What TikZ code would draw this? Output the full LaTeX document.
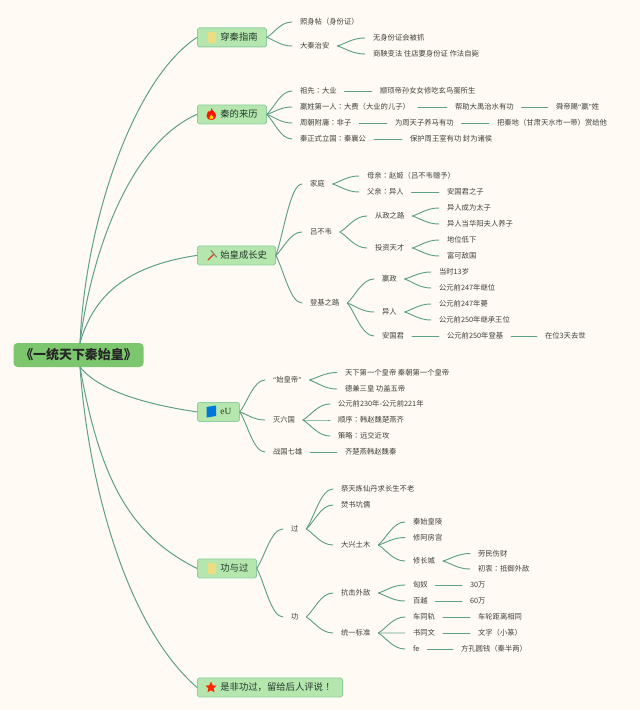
\documentclass[tikz,border=0pt]{standalone}
\usepackage{fontspec}
\usetikzlibrary{calc}
\setmainfont{Noto Sans CJK SC}
\newfontfamily\latinserif{Liberation Serif}
\newfontfamily\tcfont{Noto Sans CJK TC}
\newcommand{\zcolon}{{\tcfont：}}
\newcommand{\zexcl}{{\tcfont！}}
\newcommand{\zql}{{\latinserif “}}
\newcommand{\zqr}{{\latinserif ”}}
\definecolor{bgc}{HTML}{FFFBF4}
\definecolor{linec}{HTML}{5F9F88}
\definecolor{mainfill}{HTML}{B5E6AE}
\definecolor{mainedge}{HTML}{90CDA0}
\definecolor{rootfill}{HTML}{7CC76E}
\definecolor{leaftext}{HTML}{3F3F3A}
\definecolor{maintext}{HTML}{24382A}
\definecolor{blockc}{HTML}{EEDD80}
\tikzset{
  x=0.75pt,y=-0.75pt,
  leaf/.style={anchor=west,inner sep=0pt,outer sep=0pt,font=\fontsize{5.5pt}{6.5pt}\selectfont,text=leaftext},
  mainbox/.style={draw=mainedge,fill=mainfill,line width=0.6pt,rounded corners=1.2pt,inner sep=0pt,anchor=north west,font=\fontsize{7pt}{8pt}\selectfont,text=maintext},
  rootbox/.style={fill=rootfill,rounded corners=3pt,inner sep=0pt,font=\fontsize{9.7pt}{11pt}\bfseries\selectfont,text=black!85},
  trunk/.style={draw=linec,line width=0.75pt,line cap=round},
  twig/.style={draw=linec,line width=0.7pt,line cap=round},
}
% fork: starts at an angle, ends level at the child
\newcommand{\forkline}[2]{%
  \coordinate (fa) at (#1);
  \coordinate (fb) at (#2);
  \coordinate (fc) at ($(fa)!0.3!(fb)$);
  \coordinate (fd) at ($(fa)!0.55!(fb)$);
  \draw[twig] (fa) .. controls (fc) and (fd |- fb) .. (fb);}
\newcommand{\twigc}[2]{\forkline{[xshift=6pt]#1.east}{[xshift=-6pt]#2.west}}
\newcommand{\twigm}[2]{\forkline{#1.east}{[xshift=-6pt]#2.west}}
\newcommand{\twigs}[2]{\draw[twig] ([xshift=6pt]#1.east) -- ([xshift=-6pt]#2.west);}
\newcommand{\mainnode}[4]{\node[mainbox,minimum height=14.25pt] (#1) at (#2) {\makebox[#3\dimexpr0.75pt\relax][l]{\hspace{17.25pt}#4}};}
\begin{document}
\begin{tikzpicture}
\useasboundingbox[fill=bgc] (0,0) rectangle (640,710);

% root and main nodes
\node[rootbox,minimum width=97.5pt,minimum height=18pt] (root) at (78.5,355) {《一统天下秦始皇》};
\coordinate (rt) at (80,343);
\coordinate (rb) at (80,367);
\mainnode{m1}{197,27.5}{69}{穿秦指南}
\mainnode{m2}{197,104.5}{69}{秦的来历}
\mainnode{m3}{197,245.5}{78}{始皇成长史}
\mainnode{m4}{197,402}{42}{{\latinserif eU}}
\mainnode{m5}{197,558.5}{59}{功与过}
\mainnode{m6}{197,677.5}{145}{是非功过，留给后人评说\zexcl}

\draw[trunk] (rt) .. controls (85,225) and (132,80) .. (m1.west);
\draw[trunk] (rt) .. controls (90,260) and (127,145) .. (m2.west);
\draw[trunk] (rt) .. controls (93,297) and (125,266) .. (m3.west);
\draw[trunk] (rb) .. controls (100,392) and (150,405) .. (m4.west);
\draw[trunk] (rb) .. controls (100,480) and (130,535) .. (m5.west);
\draw[trunk] (rb) .. controls (88,480) and (125,625) .. (m6.west);

% icons
\fill[rounded corners=1pt,fill=blockc] (207.5,32) rectangle (216,43);
\fill[rounded corners=1pt,fill=blockc] (207.5,563) rectangle (216,574);
\fill[fill=red!85!orange] (211.5,108) .. controls (212,111) and (216,112) .. (216,116) .. controls (216,119) and (213,120) .. (211.5,120) .. controls (209,120) and (206.5,119) .. (206.5,116) .. controls (206.5,114) and (208,113) .. (208,111.5) .. controls (209.5,112.5) and (211.5,111) .. (211.5,108) -- cycle;
\fill[fill=yellow!70!orange] (211.3,114.5) .. controls (213,116) and (213.5,117) .. (213.3,118) .. controls (213,120) and (209.5,120) .. (209.3,118) .. controls (209.2,117) and (210.5,116) .. (211.3,114.5) -- cycle;
\draw[line width=0.9pt,draw=red!55!brown,line cap=round] (208,260) -- (214,254);
\draw[line width=0.8pt,draw=gray!90!brown,line cap=round] (211,250.5) -- (216.5,257);
\fill[fill=blue!45!cyan!85!black] (206.5,407) -- (216,405.5) -- (216,416) -- (206.5,417.5) -- cycle;
\fill[fill=red!70!orange] (211,681.5) -- (212.7,685.3) -- (216.5,685.7) -- (213.6,688.3) -- (214.5,692.3) -- (211,690.2) -- (207.5,692.3) -- (208.4,688.3) -- (205.5,685.7) -- (209.3,685.3) -- cycle;

% 穿秦指南
\node[leaf] (a1) at (300,22) {照身帖（身份证）};
\node[leaf] (a2) at (300,46) {大秦治安};
\node[leaf] (a21) at (373,38) {无身份证会被抓};
\node[leaf] (a22) at (373,54) {商鞅变法 住店要身份证 作法自毙};

% 秦的来历
\node[leaf] (b1) at (300,91) {祖先\zcolon 大业};
\node[leaf] (b11) at (380,91) {颛顼帝孙女女修吃玄鸟蛋所生};
\node[leaf] (b2) at (300,107) {嬴姓第一人\zcolon 大费（大业的儿子）};
\node[leaf] (b21) at (455,107) {帮助大禹治水有功};
\node[leaf] (b22) at (556,107) {舜帝赐\zql 嬴\zqr 姓};
\node[leaf] (b3) at (300,123) {周朝附庸\zcolon 非子};
\node[leaf] (b31) at (395,123) {为周天子养马有功};
\node[leaf] (b32) at (497,123) {把秦地（甘肃天水市一带）赏给他};
\node[leaf] (b4) at (300,139) {秦正式立国\zcolon 秦襄公};
\node[leaf] (b41) at (410,139) {保护周王室有功 封为诸侯};

% 始皇成长史
\node[leaf] (c1) at (310,184) {家庭};
\node[leaf] (c11) at (367,176) {母亲\zcolon 赵姬（吕不韦赠予）};
\node[leaf] (c12) at (367,192) {父亲\zcolon 异人};
\node[leaf] (c121) at (447,192) {安国君之子};
\node[leaf] (c2) at (310,232) {吕不韦};
\node[leaf] (c21) at (375,216) {从政之路};
\node[leaf] (c211) at (447,208) {异人成为太子};
\node[leaf] (c212) at (447,224) {异人当华阳夫人养子};
\node[leaf] (c22) at (375,248) {投资天才};
\node[leaf] (c221) at (447,240) {地位低下};
\node[leaf] (c222) at (447,256) {富可敌国};
\node[leaf] (c3) at (310,303) {登基之路};
\node[leaf] (c31) at (382,279) {嬴政};
\node[leaf] (c311) at (439,272) {当时13岁};
\node[leaf] (c312) at (439,288) {公元前247年继位};
\node[leaf] (c32) at (382,312) {异人};
\node[leaf] (c321) at (439,304) {公元前247年薨};
\node[leaf] (c322) at (439,320) {公元前250年继承王位};
\node[leaf] (c33) at (382,336) {安国君};
\node[leaf] (c331) at (447,336) {公元前250年登基};
\node[leaf] (c332) at (545,336) {在位3天去世};

% eU
\node[leaf] (d1) at (273,380) {\zql 始皇帝\zqr};
\node[leaf] (d11) at (345,372.5) {天下第一个皇帝 秦朝第一个皇帝};
\node[leaf] (d12) at (345,389) {德兼三皇 功盖五帝};
\node[leaf] (d2) at (273,420) {灭六国};
\node[leaf] (d21) at (338,404) {公元前230年-公元前221年};
\node[leaf] (d22) at (338,420) {顺序\zcolon 韩赵魏楚燕齐};
\node[leaf] (d23) at (338,436) {策略\zcolon 远交近攻};
\node[leaf] (d3) at (273,452) {战国七雄};
\node[leaf] (d31) at (345,452) {齐楚燕韩赵魏秦};

% 功与过
\node[leaf] (e1) at (291,529) {过};
\node[leaf] (e11) at (341,489) {祭天炼仙丹求长生不老};
\node[leaf] (e12) at (341,505) {焚书坑儒};
\node[leaf] (e13) at (341,545) {大兴土木};
\node[leaf] (e131) at (413,522) {秦始皇陵};
\node[leaf] (e132) at (413,537.5) {修阿房宫};
\node[leaf] (e133) at (413,561) {修长城};
\node[leaf] (e1331) at (478,553.5) {劳民伤财};
\node[leaf] (e1332) at (478,569) {初衷\zcolon 抵御外敌};
\node[leaf] (e2) at (291,617) {功};
\node[leaf] (e21) at (341,593) {抗击外敌};
\node[leaf] (e211) at (413,585) {匈奴};
\node[leaf] (e2111) at (470,585) {30万};
\node[leaf] (e212) at (413,601) {百越};
\node[leaf] (e2121) at (470,601) {60万};
\node[leaf] (e22) at (341,633) {统一标准};
\node[leaf] (e221) at (413,617) {车同轨};
\node[leaf] (e2211) at (478,617) {车轮距离相同};
\node[leaf] (e222) at (413,633) {书同文};
\node[leaf] (e2221) at (478,633) {文字（小篆）};
\node[leaf] (e223) at (413,649) {fe};
\node[leaf] (e2231) at (461,649) {方孔圆钱（秦半两）};

% connectors from main nodes
\twigm{m1}{a1}\twigm{m1}{a2}
\twigm{m2}{b1}\twigm{m2}{b2}\twigm{m2}{b3}\twigm{m2}{b4}
\twigm{m3}{c1}\twigm{m3}{c2}\twigm{m3}{c3}
\twigm{m4}{d1}\twigm{m4}{d2}\twigm{m4}{d3}
\twigm{m5}{e1}\twigm{m5}{e2}

% curved branches
\twigc{a2}{a21}\twigc{a2}{a22}
\twigc{c1}{c11}\twigc{c1}{c12}
\twigc{c2}{c21}\twigc{c2}{c22}
\twigc{c21}{c211}\twigc{c21}{c212}
\twigc{c22}{c221}\twigc{c22}{c222}
\twigc{c3}{c31}\twigc{c3}{c32}\twigc{c3}{c33}
\twigc{c31}{c311}\twigc{c31}{c312}
\twigc{c32}{c321}\twigc{c32}{c322}
\twigc{d1}{d11}\twigc{d1}{d12}
\twigc{d2}{d21}\twigc{d2}{d22}\twigc{d2}{d23}
\twigc{e1}{e11}\twigc{e1}{e12}\twigc{e1}{e13}
\twigc{e13}{e131}\twigc{e13}{e132}\twigc{e13}{e133}
\twigc{e133}{e1331}\twigc{e133}{e1332}
\twigc{e2}{e21}\twigc{e2}{e22}
\twigc{e21}{e211}\twigc{e21}{e212}
\twigc{e22}{e221}\twigc{e22}{e222}\twigc{e22}{e223}

% straight branches
\twigs{b1}{b11}\twigs{b2}{b21}\twigs{b21}{b22}
\twigs{b3}{b31}\twigs{b31}{b32}\twigs{b4}{b41}
\twigs{c12}{c121}\twigs{c33}{c331}\twigs{c331}{c332}
\twigs{d3}{d31}
\twigs{e211}{e2111}\twigs{e212}{e2121}
\twigs{e221}{e2211}\twigs{e222}{e2221}\twigs{e223}{e2231}
\end{tikzpicture}
\end{document}
